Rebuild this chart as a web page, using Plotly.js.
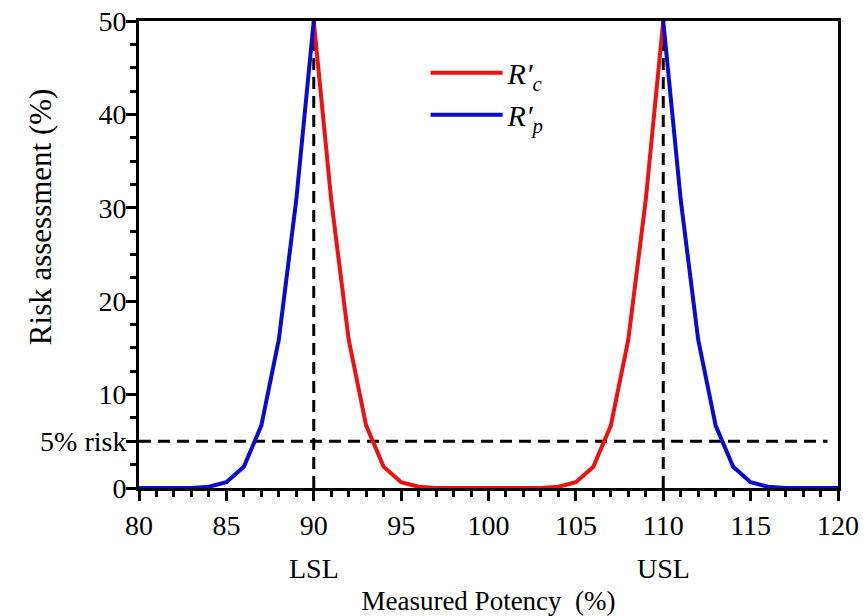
<!DOCTYPE html>
<html>
<head>
<meta charset="utf-8">
<script src="https://cdn.plot.ly/plotly-3.0.1.min.js"></script>
<style>
html,body{margin:0;padding:0;background:#fff;}
#chart{width:866px;height:616px;}
</style>
</head>
<body>
<div id="chart"></div>
<script>
// Measured potency (%) – x categories
const potency = [80,81,82,83,84,85,86,87,88,89,90,91,92,93,94,95,96,97,98,99,100,
                 101,102,103,104,105,106,107,108,109,110,111,112,113,114,115,116,117,118,119,120];
// R'c (red) – defined between the limits (80..89 none, 90..110 values, 111..120 none)
const rcValues = [null,null,null,null,null, null,null,null,null,null,
                  50,30.85,15.87,6.68,2.28, 0.62,0.13,0.01,0,0, 0,0,0,0.01,0.13, 0.62,2.28,6.68,15.87,30.85, 50,
                  null,null,null,null,null, null,null,null,null,null];
// R'p (blue) – defined outside the limits (80..90 values, 91..109 none, 110..120 values)
const rpValues = [0,0,0,0.01,0.13, 0.62,2.28,6.68,15.87,30.85, 50,
                  null,null,null,null,null, null,null,null,null,null, null,null,null,null,null, null,null,null,null,
                  50,30.85,15.87,6.68,2.28, 0.62,0.13,0.01,0,0, 0];
// Reference levels
const riskLevel = 5;
const specLimits = [90, 110];
const specLabels = ['LSL', 'USL'];
const xRange = [80, 120];
const yRange = [0, 50];
const yTickVals = [0, 5, 10, 20, 30, 40, 50];
const yTickText = ['0', '5% risk', '10', '20', '30', '40', '50'];
const yTitleText = 'Risk assessment (%)';

const fontName = 'Liberation Serif';
const dashStyle = {color: 'black', width: 3, dash: '12px,7px'};
const traces = [];
traces.push({x: [xRange[0], xRange[1] - 0.6], y: [riskLevel, riskLevel], mode: 'lines', line: dashStyle,
             showlegend: false, hoverinfo: 'skip', cliponaxis: false});
specLimits.forEach(function (v) {
  traces.push({x: [v, v], y: yRange, mode: 'lines', line: dashStyle,
               showlegend: false, hoverinfo: 'skip', cliponaxis: false});
});
traces.push({x: potency, y: rcValues, mode: 'lines', name: '<i>R′</i><sub><i>c</i></sub>',
             line: {color: '#ee1111', width: 4}, connectgaps: false, cliponaxis: false});
traces.push({x: potency, y: rpValues, mode: 'lines', name: '<i>R′</i><sub><i>p</i></sub>',
             line: {color: '#0a0ad2', width: 4}, connectgaps: false, cliponaxis: false});

const annotations = specLimits.map(function (v, i) {
  return {x: v, xref: 'x', y: 0, yref: 'paper', yanchor: 'middle', yshift: -80,
          text: specLabels[i], showarrow: false, font: {family: fontName, size: 28, color: 'black'}};
});
// y-axis title, placed like the reference (left of the tick labels, slightly above centre)
annotations.push({x: 0, xref: 'paper', xshift: -99, xanchor: 'center',
                  y: 0.58, yref: 'paper', yanchor: 'middle', textangle: -90,
                  text: yTitleText, showarrow: false, font: {family: fontName, size: 31, color: 'black'}});

const layout = {
  width: 866, height: 616,
  margin: {l: 139, r: 28, t: 21, b: 128},
  paper_bgcolor: 'white', plot_bgcolor: 'white',
  font: {family: fontName, size: 28, color: 'black'},
  xaxis: {
    range: xRange, tickmode: 'linear', tick0: 80, dtick: 5,
    ticks: 'outside', ticklen: 10, tickwidth: 3, tickcolor: 'black',
    showline: true, linewidth: 3, linecolor: 'black', mirror: true,
    showgrid: false, zeroline: false, tickfont: {family: fontName, size: 28},
    minor: {tick0: 80, dtick: 1, ticks: 'outside', ticklen: 6, tickwidth: 3, tickcolor: 'black', showgrid: false},
    title: {text: 'Measured Potency\u00a0\u00a0(%)', font: {family: fontName, size: 27}, standoff: 55},
    automargin: false
  },
  yaxis: {
    range: yRange, tickmode: 'array', tickvals: yTickVals, ticktext: yTickText,
    ticks: 'outside', ticklen: 10, tickwidth: 3, tickcolor: 'black',
    showline: true, linewidth: 3, linecolor: 'black', mirror: true,
    showgrid: false, zeroline: false, tickfont: {family: fontName, size: 28},
    ticklabelstandoff: -6,
    minor: {tickmode: 'linear', tick0: 0, dtick: 2.5, ticks: 'outside', ticklen: 6, tickwidth: 3, tickcolor: 'black', showgrid: false},
    automargin: false
  },
  legend: {x: 0.41, y: 0.945, xanchor: 'left', yanchor: 'top', font: {family: fontName, size: 30},
           bgcolor: 'rgba(0,0,0,0)', borderwidth: 0, itemwidth: 72},
  annotations: annotations,
  showlegend: true
};

Plotly.newPlot('chart', traces, layout, {displayModeBar: false});
</script>
</body>
</html>
